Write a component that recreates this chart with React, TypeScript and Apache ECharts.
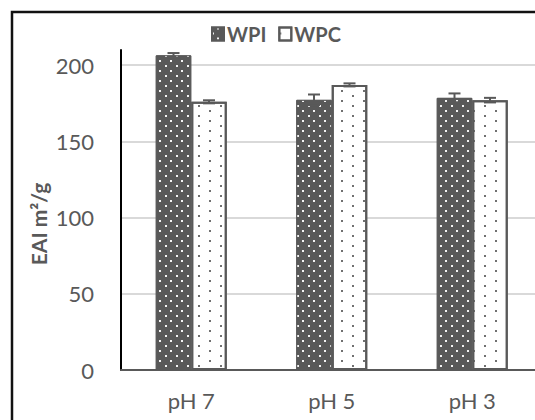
import React, { useEffect, useRef } from "react";
import * as echarts from "echarts";

const categories = ["pH 7", "pH 5", "pH 3"];
const wpiValues = [206.5, 177.3, 178.6];
const wpiErrors = [1.5, 3.5, 2.9];
const wpcValues = [176.0, 187.1, 177.1];
const wpcErrors = [1.0, 1.0, 1.5];
const yTicks = [0, 50, 100, 150, 200];

const DARK = "#595959";
const BAR_W = 35.5;

export default function App() {
  const ref = useRef<HTMLDivElement>(null);
  useEffect(() => {
    document.body.style.margin = "0";
    const chart = echarts.init(ref.current!, null, { renderer: "svg" });
    const errData = (vals: number[], errs: number[]) =>
      vals.map((v, i) => [i, v, errs[i]]);
    const errSeries = (name: string, vals: number[], errs: number[], off: number) => ({
      type: "custom",
      name: name + " error",
      z: 5,
      silent: true,
      data: errData(vals, errs),
      renderItem: (params: any, api: any) => {
        const i = api.value(0);
        const v = api.value(1);
        const e = api.value(2);
        const hi = api.coord([i, v + e]);
        const lo = api.coord([i, v - e]);
        const x = hi[0] + off;
        const style = { stroke: DARK, lineWidth: 2 };
        return {
          type: "group",
          children: [
            { type: "line", shape: { x1: x, y1: hi[1], x2: x, y2: lo[1] }, style },
            { type: "line", shape: { x1: x - 6, y1: hi[1], x2: x + 6, y2: hi[1] }, style },
            { type: "line", shape: { x1: x - 6, y1: lo[1], x2: x + 6, y2: lo[1] }, style },
          ],
        };
      },
    });
    chart.setOption({
      animation: false,
      backgroundColor: "#ffffff",
      textStyle: { fontFamily: "Lato" },
      graphic: [
        {
          type: "rect",
          shape: { x: 12, y: 12, width: 700, height: 600 },
          style: { fill: "none", stroke: "#111", lineWidth: 2.5 },
          z: 100,
        },
        {
          type: "text",
          x: 38,
          y: 224,
          rotation: Math.PI / 2,
          style: {
            text: "EAI m²/g",
            font: "bold 21px Lato",
            fill: DARK,
            textAlign: "center",
            textVerticalAlign: "middle",
          },
        },
      ],
      legend: {
        top: 19,
        left: 206,
        icon: "rect",
        itemWidth: 12,
        itemHeight: 13,
        itemGap: 12,
        data: ["WPI", "WPC"],
        textStyle: { fontFamily: "Lato", fontWeight: "bold", fontSize: 20, color: DARK, padding: [0, 0, 0, -2] },
      },
      grid: { left: 121, top: 50, width: 421.5, height: 320, outerBoundsMode: "none", containLabel: false },
      xAxis: {
        type: "category",
        data: categories,
        axisLine: { lineStyle: { color: DARK, width: 2 } },
        axisTick: { show: false },
        axisLabel: { color: DARK, fontSize: 22, fontFamily: "Lato", margin: 19 },
      },
      yAxis: {
        type: "value",
        min: 0,
        max: 210,
        interval: 50,
        axisLine: { show: true, lineStyle: { color: "#000", width: 2 } },
        axisTick: { show: false },
        axisLabel: {
          color: DARK,
          fontSize: 22,
          fontFamily: "Lato",
          margin: 27,
          formatter: (v: number) => (yTicks.includes(v) ? String(v) : ""),
        },
        splitLine: {
          lineStyle: {
            color: ["#d9d9d9", "#d9d9d9", "#d9d9d9", "#d9d9d9", "#d9d9d9", "rgba(0,0,0,0)"],
            width: 2,
          },
        },
      },
      series: [
        {
          type: "bar",
          name: "WPI",
          data: wpiValues,
          barWidth: BAR_W,
          barGap: "0%",
          itemStyle: {
            color: DARK,
            borderColor: DARK,
            borderWidth: 1,
            decal: {
              symbol: "rect",
              symbolSize: 1,
              color: "#f4f4f4",
              dashArrayX: [[2, 9], [0, 5, 2, 4]],
              dashArrayY: [2, 3],
              rotation: 0,
            },
          },
        },
        {
          type: "bar",
          name: "WPC",
          data: wpcValues,
          barWidth: BAR_W,
          barGap: "0%",
          itemStyle: {
            color: "#ffffff",
            borderColor: DARK,
            borderWidth: 2,
            decal: {
              symbol: "rect",
              symbolSize: 1,
              color: "#707070",
              dashArrayX: [[2, 20], [0, 11, 2, 9]],
              dashArrayY: [2, 3],
              rotation: 0,
            },
          },
        },
        errSeries("WPI", wpiValues, wpiErrors, -BAR_W / 2),
        errSeries("WPC", wpcValues, wpcErrors, BAR_W / 2),
      ],
    });
    return () => chart.dispose();
  }, []);
  return <div ref={ref} style={{ width: 535, height: 420 }} />;
}
